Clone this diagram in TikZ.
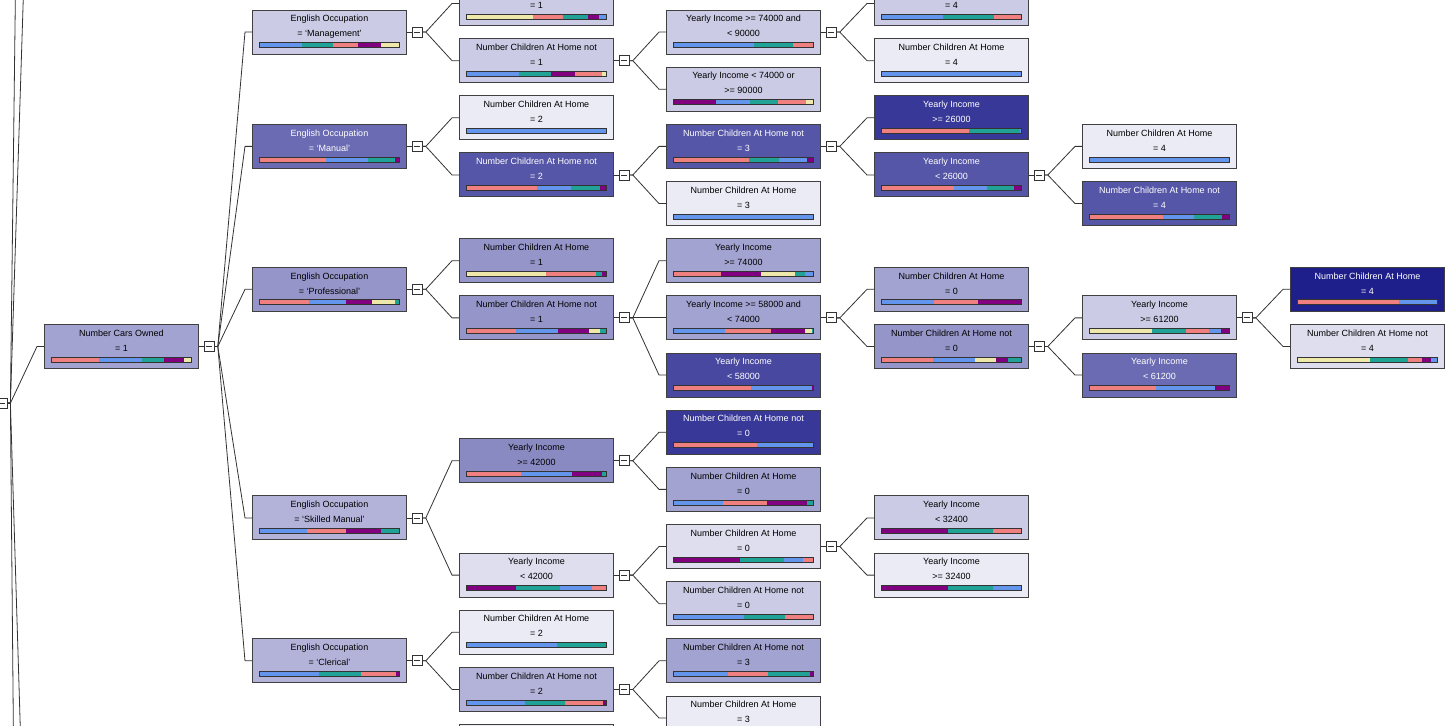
\documentclass[tikz,border=0pt]{standalone}
\usepackage{fontspec}
\setmainfont{Liberation Sans}
\usetikzlibrary{positioning, calc}

\definecolor{pblue}{HTML}{6495ED}
\definecolor{pteal}{HTML}{20A297}
\definecolor{pred}{HTML}{F08080}
\definecolor{ppurple}{HTML}{800080}
\definecolor{pyellow}{HTML}{EEE8AA}
\definecolor{sa}{HTML}{EBEBF5}
\definecolor{sb}{HTML}{DEDEEF}
\definecolor{sc}{HTML}{CBCBE5}
\definecolor{sd}{HTML}{B3B3DA}
\definecolor{se}{HTML}{A3A3D1}
\definecolor{sf}{HTML}{9595C9}
\definecolor{sg}{HTML}{8A8AC3}
\definecolor{sh}{HTML}{6B6BB3}
\definecolor{si}{HTML}{5656A8}
\definecolor{sj}{HTML}{4848A0}
\definecolor{sk}{HTML}{383899}
\definecolor{sl}{HTML}{1F1F8C}
\definecolor{edge}{HTML}{404040}

\newcommand{\tnode}[7]{%
  \node[tbox, fill=#4] (#1) at (#2,#3) {};
  \node[tlabel, text=#5, below=5.5pt of #1.north] (#1-t) {#6\\#7};}
\newcommand{\tbar}[2]{%
  \coordinate (#1-b) at ([shift={(7pt,-33pt)}]#1.north west);
  \foreach \bcol/\bend [remember=\bend as \bstart (initially 0)] in {#2}
    {\fill[\bcol] ([xshift=\bstart*1.4pt]#1-b) rectangle ([shift={(\bend*1.4pt,-5pt)}]#1-b);}
  \draw[barline] (#1-b) rectangle ([shift={(140pt,-5pt)}]#1-b);}
\newcommand{\tcol}[1]{%
  \node[cbox, right=5pt of #1] (#1-c) {};
  \draw[link] (#1) -- (#1-c);}
\newcommand{\tlink}[2]{\draw[link] (#1-c.east) -- ++(3pt,0) -- ([xshift=-7pt]#2.west) -- (#2.west);}

\begin{document}
\begin{tikzpicture}[x=1pt, y=-28.58pt,
  tbox/.style={draw=edge, line width=1pt, minimum width=154pt, minimum height=44pt, inner sep=0pt, anchor=north west},
  tlabel/.style={font=\fontsize{9}{15}\selectfont, align=center, inner sep=0pt},
  cbox/.style={draw=black!80, fill=white, line width=0.8pt, minimum width=10pt, minimum height=10pt, inner sep=0pt,
    path picture={\draw[line width=0.8pt] ([xshift=2pt]path picture bounding box.west) -- ([xshift=-2pt]path picture bounding box.east);}},
  link/.style={draw=black!80, line width=0.8pt},
  barline/.style={draw=black!80, line width=0.7pt}]
  \useasboundingbox (0,0.665) rectangle (1454,26.033);
  \fill[white] (0,0.665) rectangle (1454,26.033);
  \clip (0,0.665) rectangle (1454,26.033);

  % first column
  \tnode{cars}{44}{12}{se}{black}{Number Cars Owned}{= 1}
  \tbar{cars}{pred/34, pblue/65, pteal/81, ppurple/95, pyellow/100}

  % occupations
  \tnode{mgmt}{252}{1}{sc}{black}{English Occupation}{= `Management'}
  \tbar{mgmt}{pblue/31, pteal/53, pred/71, ppurple/87, pyellow/100}
  \tnode{manual}{252}{5}{sh}{white}{English Occupation}{= `Manual'}
  \tbar{manual}{pred/48, pblue/78, pteal/97, ppurple/100}
  \tnode{prof}{252}{10}{sf}{black}{English Occupation}{= `Professional'}
  \tbar{prof}{pred/36, pblue/62, ppurple/81, pyellow/97, pteal/100}
  \tnode{skilled}{252}{18}{sd}{black}{English Occupation}{= `Skilled Manual'}
  \tbar{skilled}{pblue/34, pred/62, ppurple/87, pteal/100}
  \tnode{cler}{252}{23}{sd}{black}{English Occupation}{= `Clerical'}
  \tbar{cler}{pblue/43, pteal/73, pred/98, ppurple/100}

  % third column
  \tnode{mgA}{459}{0}{sc}{black}{\vphantom{Nh}}{= 1}
  \tbar{mgA}{pyellow/48, pred/69, pteal/87, ppurple/95, pblue/100}
  \tnode{mgB}{459}{2}{sc}{black}{Number Children At Home not}{= 1}
  \tbar{mgB}{pblue/38, pteal/61, ppurple/78, pred/97, pyellow/100}
  \tnode{manA}{459}{4}{sa}{black}{Number Children At Home}{= 2}
  \tbar{manA}{pblue/100}
  \tnode{manB}{459}{6}{si}{white}{Number Children At Home not}{= 2}
  \tbar{manB}{pred/51, pblue/75, pteal/96, ppurple/100}
  \tnode{prA}{459}{9}{sf}{black}{Number Children At Home}{= 1}
  \tbar{prA}{pyellow/57, pred/93, pteal/97, ppurple/100}
  \tnode{prB}{459}{11}{sf}{black}{Number Children At Home not}{= 1}
  \tbar{prB}{pred/36, pblue/66, ppurple/88, pyellow/96, pteal/100}
  \tnode{skA}{459}{16}{sg}{black}{Yearly Income}{>= 42000}
  \tbar{skA}{pred/39, pblue/76, ppurple/97, pteal/100}
  \tnode{skB}{459}{20}{sb}{black}{Yearly Income}{< 42000}
  \tbar{skB}{ppurple/36, pteal/67, pblue/90, pred/100}
  \tnode{clA}{459}{22}{sa}{black}{Number Children At Home}{= 2}
  \tbar{clA}{pblue/65, pteal/100}
  \tnode{clB}{459}{24}{sd}{black}{Number Children At Home not}{= 2}
  \tbar{clB}{pblue/42, pteal/71, pred/98, ppurple/100}
  \node[tbox, fill=sa] (nextC) at (459,26) {};

  % fourth column
  \tnode{mgBA}{666}{1}{sc}{black}{Yearly Income >= 74000 and}{< 90000}
  \tbar{mgBA}{pblue/58, pteal/86, pred/100}
  \tnode{mgBB}{666}{3}{sc}{black}{Yearly Income < 74000 or}{>= 90000}
  \tbar{mgBB}{ppurple/31, pblue/55, pteal/75, pred/95, pyellow/100}
  \tnode{manBA}{666}{5}{si}{white}{Number Children At Home not}{= 3}
  \tbar{manBA}{pred/54, pteal/76, pblue/96, ppurple/100}
  \tnode{manBB}{666}{7}{sa}{black}{Number Children At Home}{= 3}
  \tbar{manBB}{pblue/100}
  \tnode{prBA}{666}{9}{se}{black}{Yearly Income}{>= 74000}
  \tbar{prBA}{pred/34, ppurple/63, pyellow/87, pteal/94, pblue/100}
  \tnode{prBB}{666}{11}{se}{black}{Yearly Income >= 58000 and}{< 74000}
  \tbar{prBB}{pblue/37, pred/70, ppurple/94, pyellow/99, pteal/100}
  \tnode{prBC}{666}{13}{sj}{white}{Yearly Income}{< 58000}
  \tbar{prBC}{pred/56, pblue/99, ppurple/100}
  \tnode{skAA}{666}{15}{sk}{white}{Number Children At Home not}{= 0}
  \tbar{skAA}{pred/60, pblue/100}
  \tnode{skAB}{666}{17}{se}{black}{Number Children At Home}{= 0}
  \tbar{skAB}{pblue/36, pred/67, ppurple/96, pteal/100}
  \tnode{skBA}{666}{19}{sb}{black}{Number Children At Home}{= 0}
  \tbar{skBA}{ppurple/48, pteal/79, pblue/93, pred/100}
  \tnode{skBB}{666}{21}{sc}{black}{Number Children At Home not}{= 0}
  \tbar{skBB}{pblue/51, pteal/80, pred/100}
  \tnode{clBA}{666}{23}{se}{black}{Number Children At Home not}{= 3}
  \tbar{clBA}{pblue/39, pred/68, pteal/98, ppurple/100}
  \tnode{clBB}{666}{25}{sa}{black}{Number Children At Home}{= 3}
  \tbar{clBB}{pblue/100}

  % fifth column
  \tnode{mgBAA}{874}{0}{sc}{black}{\vphantom{Nh}}{= 4}
  \tbar{mgBAA}{pblue/44, pteal/81, pred/100}
  \tnode{mgBAB}{874}{2}{sa}{black}{Number Children At Home}{= 4}
  \tbar{mgBAB}{pblue/100}
  \tnode{manBAA}{874}{4}{sk}{white}{Yearly Income}{>= 26000}
  \tbar{manBAA}{pred/63, pteal/99, pblue/100}
  \tnode{manBAB}{874}{6}{si}{white}{Yearly Income}{< 26000}
  \tbar{manBAB}{pred/52, pblue/76, pteal/95, ppurple/100}
  \tnode{prBBA}{874}{10}{se}{black}{Number Children At Home}{= 0}
  \tbar{prBBA}{pblue/38, pred/69, ppurple/100}
  \tnode{prBBB}{874}{12}{sf}{black}{Number Children At Home not}{= 0}
  \tbar{prBBB}{pred/37, pblue/67, pyellow/82, ppurple/91, pteal/100}
  \tnode{skBAA}{874}{18}{sc}{black}{Yearly Income}{< 32400}
  \tbar{skBAA}{ppurple/48, pteal/80, pred/100}
  \tnode{skBAB}{874}{20}{sa}{black}{Yearly Income}{>= 32400}
  \tbar{skBAB}{ppurple/48, pteal/80, pblue/100}

  % sixth and seventh column
  \tnode{manBABA}{1082}{5}{sa}{black}{Number Children At Home}{= 4}
  \tbar{manBABA}{pblue/100}
  \tnode{manBABB}{1082}{7}{si}{white}{Number Children At Home not}{= 4}
  \tbar{manBABB}{pred/53, pblue/75, pteal/95, ppurple/100}
  \tnode{prBBBA}{1082}{11}{sc}{black}{Yearly Income}{>= 61200}
  \tbar{prBBBA}{pyellow/45, pteal/69, pred/86, pblue/94, ppurple/100}
  \tnode{prBBBB}{1082}{13}{sh}{white}{Yearly Income}{< 61200}
  \tbar{prBBBB}{pred/48, pblue/90, ppurple/100}
  \tnode{prG1}{1290}{10}{sl}{white}{Number Children At Home}{= 4}
  \tbar{prG1}{pred/73, pblue/100}
  \tnode{prG2}{1290}{12}{sb}{black}{Number Children At Home not}{= 4}
  \tbar{prG2}{pyellow/52, pteal/79, pred/89, ppurple/96, pblue/100}

  % root, cut off at the left edge
  \node[cbox] (root-c) at (2,14.77) {};
  \coordinate (up1) at (37,-14.45);
  \coordinate (up2) at (37,-61.2);
  \coordinate (dn1) at (37,45.3);
  \coordinate (dn2) at (37,116.5);
  \foreach \t in {up1, up2, dn1, dn2}
    {\draw[link] (root-c.east) -- ++(3pt,0) -- (\t);}
  \tlink{root}{cars}

  \foreach \p in {cars, mgmt, manual, prof, skilled, cler, mgB, manB, prB, skA, skB, clB,
                  mgBA, manBA, prBB, skBA, manBAB, prBBB, prBBBA}
    {\tcol{\p}}

  \foreach \k in {mgmt, manual, prof, skilled, cler} {\tlink{cars}{\k}}
  \tlink{mgmt}{mgA} \tlink{mgmt}{mgB}
  \tlink{manual}{manA} \tlink{manual}{manB}
  \tlink{prof}{prA} \tlink{prof}{prB}
  \tlink{skilled}{skA} \tlink{skilled}{skB}
  \tlink{cler}{clA} \tlink{cler}{clB}
  \tlink{mgB}{mgBA} \tlink{mgB}{mgBB}
  \tlink{manB}{manBA} \tlink{manB}{manBB}
  \foreach \k in {prBA, prBB, prBC} {\tlink{prB}{\k}}
  \tlink{skA}{skAA} \tlink{skA}{skAB}
  \tlink{skB}{skBA} \tlink{skB}{skBB}
  \tlink{clB}{clBA} \tlink{clB}{clBB}
  \tlink{mgBA}{mgBAA} \tlink{mgBA}{mgBAB}
  \tlink{manBA}{manBAA} \tlink{manBA}{manBAB}
  \tlink{prBB}{prBBA} \tlink{prBB}{prBBB}
  \tlink{skBA}{skBAA} \tlink{skBA}{skBAB}
  \tlink{manBAB}{manBABA} \tlink{manBAB}{manBABB}
  \tlink{prBBB}{prBBBA} \tlink{prBBB}{prBBBB}
  \tlink{prBBBA}{prG1} \tlink{prBBBA}{prG2}
\end{tikzpicture}
\end{document}
